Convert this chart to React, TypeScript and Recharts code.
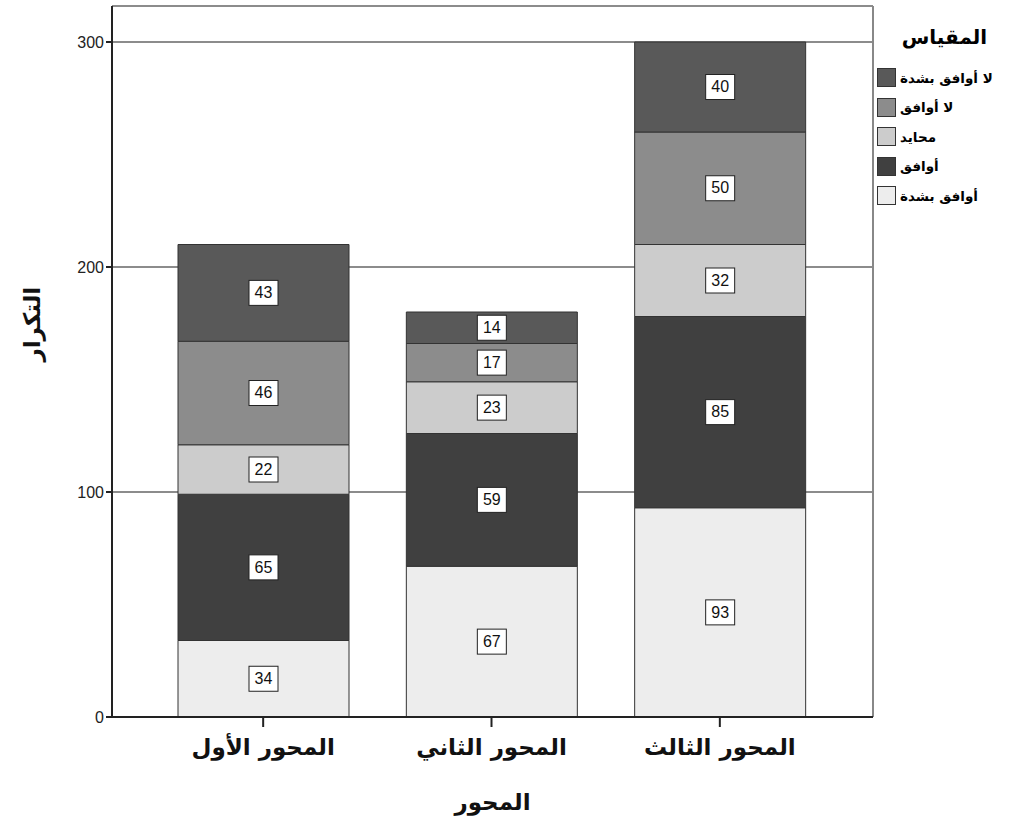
import { BarChart, Bar, XAxis, YAxis, CartesianGrid, LabelList } from 'recharts'

const categories = ['المحور الأول', 'المحور الثاني', 'المحور الثالث']
const stronglyAgree = [34, 67, 93]
const agree = [65, 59, 85]
const neutral = [22, 23, 32]
const disagree = [46, 17, 50]
const stronglyDisagree = [43, 14, 40]
const yTicks = [0, 100, 200, 300]

// stacked bottom to top
const series = [
  { key: 'sa', name: 'أوافق بشدة', values: stronglyAgree, color: '#ededed' },
  { key: 'a', name: 'أوافق', values: agree, color: '#404040' },
  { key: 'n', name: 'محايد', values: neutral, color: '#cccccc' },
  { key: 'd', name: 'لا أوافق', values: disagree, color: '#8c8c8c' },
  { key: 'sd', name: 'لا أوافق بشدة', values: stronglyDisagree, color: '#595959' },
]

const data = categories.map((cat, i) => {
  const row: Record<string, string | number> = { cat }
  series.forEach((s) => { row[s.key] = s.values[i] })
  return row
})

const arFont = '"DejaVu Sans", "Noto Sans", sans-serif'
const numFont = '"Liberation Sans Narrow", "Liberation Sans", Arial, sans-serif'

function BoxLabel(props: any) {
  const { x, y, width, height, value } = props
  const cx = x + width / 2
  const cy = y + height / 2
  return (
    <g>
      <rect x={cx - 14.5} y={cy - 12.5} width={29} height={25} fill="#fff" stroke="#222" strokeWidth={1} />
      <text x={cx} y={cy + 1} textAnchor="middle" dominantBaseline="middle" fontSize={16} fontFamily={numFont} fill="#111">
        {value}
      </text>
    </g>
  )
}

function LegendBox() {
  const items = [...series].reverse()
  return (
    <div style={{ position: 'absolute', left: 876, top: 17, width: 147, fontFamily: arFont }}>
      <div style={{ textAlign: 'center', fontWeight: 'bold', fontSize: 20, height: 46, lineHeight: '40px', direction: 'rtl', paddingRight: 10 }}>المقياس</div>
      {items.map((s) => (
        <div key={s.key} style={{ display: 'flex', alignItems: 'center', height: 29.5 }}>
          <span style={{ width: 17, height: 17, background: s.color, border: '1px solid #333', display: 'inline-block', marginLeft: 1 }} />
          <span style={{ fontSize: 13.5, fontWeight: 'bold', marginLeft: 4, direction: 'rtl' }}>{s.name}</span>
        </div>
      ))}
    </div>
  )
}

export default function App() {
  return (
    <div style={{ position: 'absolute', left: 0, top: 0, width: 1023, height: 834, background: '#fff' }}>
      <BarChart width={1023} height={834} data={data} margin={{ top: 6, right: 150, bottom: 0, left: 0 }} barSize={171}>
        <CartesianGrid horizontal vertical={false} stroke="#666" strokeWidth={1.5} />
        <CartesianGrid
          horizontal={false}
          vertical
          fill="none"
          stroke="#888"
          strokeWidth={2}
          verticalCoordinatesGenerator={({ offset }: any) => [offset.left + offset.width]}
        />
        <XAxis
          dataKey="cat"
          height={117}
          padding={{ left: 37, right: 39 }}
          stroke="#222"
          strokeWidth={2}
          tickSize={10}
          tickLine={{ stroke: '#222', strokeWidth: 2 }}
          tick={{ fontSize: 23, fontWeight: 'bold', fill: '#111', fontFamily: arFont, dy: 10 }}
          label={{ value: 'المحور', position: 'insideBottom', offset: 24, fontSize: 23, fontWeight: 'bold', fill: '#111', fontFamily: arFont }}
        />
        <XAxis xAxisId="top" orientation="top" dataKey="cat" height={0} tick={false} tickLine={false} stroke="#888" strokeWidth={2} />
        <YAxis
          width={112}
          domain={[0, 316]}
          ticks={yTicks}
          allowDataOverflow
          stroke="#222"
          strokeWidth={2}
          tickSize={6}
          tickLine={{ stroke: '#222', strokeWidth: 2 }}
          tick={{ fontSize: 16, fill: '#222', fontFamily: '"Liberation Sans", Arial, sans-serif' }}
          label={{ value: 'التكرار', angle: -90, position: 'insideLeft', offset: 32, fontSize: 23, fontWeight: 'bold', fill: '#111', fontFamily: arFont }}
        />
        {series.map((s) => (
          <Bar key={s.key} dataKey={s.key} name={s.name} stackId="a" fill={s.color} stroke="#333" strokeWidth={1} isAnimationActive={false}>
            <LabelList dataKey={s.key} content={BoxLabel} />
          </Bar>
        ))}
      </BarChart>
      <LegendBox />
    </div>
  )
}
